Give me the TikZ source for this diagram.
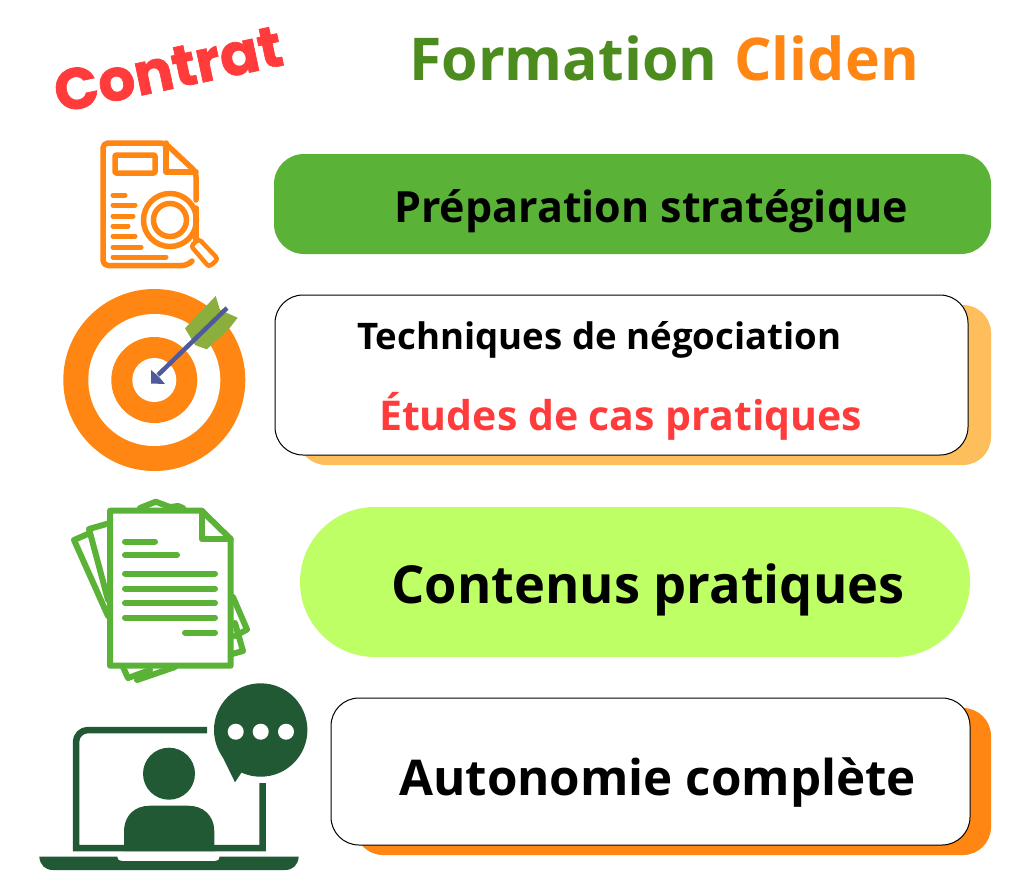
\documentclass[tikz,border=0pt]{standalone}
\usepackage{fontspec}
\setmainfont{Open Sans}
\newfontfamily\contratfont[FakeBold=1.2]{Poppins}
\definecolor{cOrange}{HTML}{FF8612}
\definecolor{cGreen}{HTML}{5AB236}
\definecolor{cTitle}{HTML}{4C8C1E}
\definecolor{cLime}{HTML}{BFFF66}
\definecolor{cShadow}{HTML}{FFBE5C}
\definecolor{cRed}{HTML}{FF3B3B}
\definecolor{cDark}{HTML}{225935}
\definecolor{cArrow}{HTML}{4F5A9C}
\definecolor{cFeather}{HTML}{8CAE3C}
\tikzset{
  x=1pt,y=-1pt,
  label text/.style={font=\bfseries\fontsize{#1}{#1}\selectfont,anchor=base west,inner sep=0pt,text=black},
  docline/.style={line width=5.5pt,cOrange,line cap=round,line join=round},
  sheet/.style={line width=6pt,cGreen,line cap=round,line join=round},
  sheetback/.style={line width=6pt,cGreen,line cap=round,line join=round},
  card/.style={draw=black,line width=1pt,fill=white,rounded corners=28pt},
}
\begin{document}
\begin{tikzpicture}
\useasboundingbox (0,0) rectangle (1024,878);
\fill[white] (0,0) rectangle (1024,878);
% titles
\node[label text=59,text=cTitle] (titleA) at (409,80) {Formation};
\node[label text=59,text=cOrange] (titleB) at (734,80) {Cliden};
\node[font=\contratfont\bfseries\fontsize{58}{58}\selectfont,text=cRed,rotate=12,inner sep=0pt] (contrat) at (168,69) {Contrat};
% bands
\fill[cGreen,rounded corners=30pt] (274,154) rectangle (991,254);
\fill[cShadow,rounded corners=28pt] (298,305) rectangle (991,465);
\draw[card] (275,295) rectangle (968,455);
\fill[cLime,rounded corners=74.9pt] (300,507) rectangle (970,657);
\fill[cOrange,rounded corners=28pt] (355,708) rectangle (991,855);
\draw[card] (331,698) rectangle (970,845);
% labels
\node[label text=43] (l1) at (394,222) {Préparation stratégique};
\node[label text=36.6] (l2) at (357,349) {Techniques de négociation};
\node[label text=41,text=cRed] (l3) at (379,430) {Études de cas pratiques};
\node[label text=52.4] (l4) at (391,603) {Contenus pratiques};
\node[label text=49.3] (l5) at (399,795) {Autonomie complète};
% document icon
\draw[docline,rounded corners=5pt] (196,200) -- (196,172) -- (165,143) -- (103,143) -- (103,265.5) -- (187,265.5) -- (192,261);
\draw[docline,line join=round] (166,143) -- (166,172) -- (196,172);
\draw[docline,rounded corners=1pt] (115,155) rectangle (155,173);
\foreach \ya/\xb in {195/125,205/135,216/133,226/128,236/135,247/141,257/166}
  \draw[line width=5pt,cOrange,line cap=round] (113,\ya) -- (\xb,\ya);
\fill[white] (170,220) circle (29);
\draw[cOrange,line width=5.5pt] (170,220) circle (26.5);
\draw[cOrange,line width=5.5pt] (170,220) circle (16.5);
\draw[docline] (196,208) -- (196,240);
\draw[cOrange,line width=4.5pt,line join=round,fill=white,rounded corners=3pt] (191,246) -- (199,239) -- (218,259) -- (209,267) -- cycle;
% target
\fill[cOrange] (154.3,380) circle (91);
\fill[white] (154.3,380) circle (66);
\fill[cOrange] (154.3,380) circle (43);
\fill[white] (154.3,380) circle (22);
\fill[cFeather] (215.7,296) -- (220,310) -- (237.7,317.7) -- (228,330) -- (206.7,349.3) -- (195,345) -- (185,328.3) -- cycle;
\draw[cArrow,line width=4.5pt] (227,308) -- (158,375);
\fill[cArrow] (151,370) -- (151,383.5) -- (165,384) -- (160,378) -- (157,375) -- cycle;
% sheets
\draw[sheetback] (110,523) -- (89,529) -- (108,600);
\draw[sheetback] (90,533) -- (74,540) -- (108,616);
\draw[sheetback] (140,508) -- (155.7,501.7) -- (170,507) -- (178,506) -- (183,508);
\draw[sheetback] (233,597) -- (247,629.5) -- (235,636);
\draw[sheetback] (235,623) -- (243,651) -- (232,654);
\draw[sheetback] (123,667) -- (128,678) -- (150,670);
\draw[sheetback] (137,680) -- (175,667);
\fill[white] (110,510.7) -- (201.7,510.7) -- (230.7,539) -- (230.7,665.7) -- (110,665.7) -- cycle;
\draw[sheet] (110,510.7) -- (201.7,510.7) -- (230.7,539) -- (230.7,665.7) -- (110,665.7) -- cycle;
\draw[sheet] (201.7,510.7) -- (201.7,539) -- (230.7,539);
\foreach \ya/\xa/\xb in {541.5/125/155,555/125/177,573.5/125/215,588.5/125/215,603/125/215,617.5/125/215,632.5/185/215}
  \draw[line width=6pt,cGreen,line cap=round] (\xa,\ya) -- (\xb,\ya);
% laptop
\draw[cDark,line width=6.5pt] (207,730) -- (88,730) to[out=180,in=90] (76,742) -- (76,848) -- (262.7,848) -- (262.7,783);
\fill[cDark] (39.3,856.7) -- (117.3,856.7) .. controls (118,860) and (119,861) .. (122,861) -- (215,861) .. controls (218,861) and (219,860) .. (219.5,856.7) -- (298.7,856.7) .. controls (298,865) and (293,870) .. (285,870) -- (53,870) .. controls (45,870) and (40,865) .. (39.3,856.7) -- cycle;
\fill[cDark] (169,773.7) circle (26);
\fill[cDark] (124,851) -- (124,832) .. controls (124,815) and (135,805.7) .. (150,805.7) -- (188,805.7) .. controls (203,805.7) and (214.3,815) .. (214.3,832) -- (214.3,851) -- cycle;
\fill[cDark] (260.7,730) circle (46.7);
\fill[cDark] (235,782.3) -- (221.7,755) -- (241.7,772.3) -- cycle;
\fill[white] (235.7,731.7) circle (8);
\fill[white] (260.7,731.7) circle (8);
\fill[white] (286,731.7) circle (8);
\end{tikzpicture}
\end{document}
